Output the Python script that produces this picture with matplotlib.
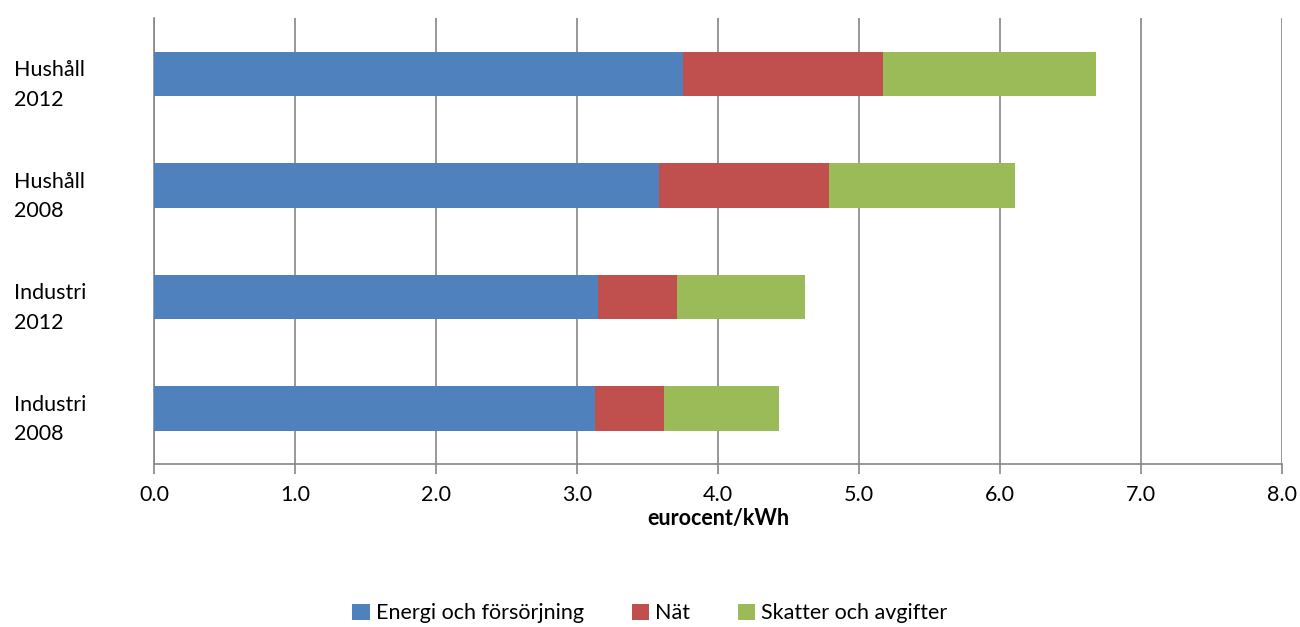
import matplotlib
matplotlib.use('Agg')
import matplotlib.pyplot as plt
import matplotlib.transforms as mtransforms

plt.rcParams['font.family'] = ['Lato', 'DejaVu Sans']

# data
categories = ["Hushåll\n2012", "Hushåll\n2008", "Industri\n2012", "Industri\n2008"]
energi = [3.75, 3.58, 3.15, 3.13]
nat = [1.42, 1.21, 0.56, 0.49]
skatter = [1.51, 1.32, 0.91, 0.81]
series_names = ["Energi och försörjning", "Nät", "Skatter och avgifter"]
colors = ["#4F81BD", "#C0504D", "#9BBB59"]

fig = plt.figure(figsize=(13, 6.27), dpi=100)
ax = fig.add_axes([0.1185, 0.26, 0.8675, 0.711])

ypos = list(range(len(categories)))
left2 = [a + b for a, b in zip(energi, nat)]
ax.barh(ypos, energi, height=0.4, color=colors[0], label=series_names[0], zorder=3)
ax.barh(ypos, nat, left=energi, height=0.4, color=colors[1], label=series_names[1], zorder=3)
ax.barh(ypos, skatter, left=left2, height=0.4, color=colors[2], label=series_names[2], zorder=3)

ax.set_ylim(3.5, -0.5)
ax.set_xlim(0, 8)
ax.set_xticks([0, 1, 2, 3, 4, 5, 6, 7, 8])
ax.set_xticklabels(["%.1f" % v for v in range(9)], fontsize=15.5)
ax.set_xlabel("eurocent/kWh", fontsize=15.5, fontweight='bold', labelpad=2)
ax.xaxis.grid(True, color='#868686', linewidth=1.2, zorder=0)
ax.tick_params(axis='x', length=7, color='#868686', width=1.2, pad=8)
ax.set_yticks([])

for s in ['top', 'right']:
    ax.spines[s].set_visible(False)
for s in ['left', 'bottom']:
    ax.spines[s].set_color('#868686')
    ax.spines[s].set_linewidth(1.2)

# y labels left aligned near figure edge, sitting a little below bar centre
trans = mtransforms.blended_transform_factory(fig.transFigure, ax.transData)
for i, c in enumerate(categories):
    ax.text(14 / 1300, i + 0.1, c, transform=trans, ha='left', va='center',
            fontsize=15.5, linespacing=1.6)

fig.legend(loc='lower center', bbox_to_anchor=(0.5, -0.025), ncol=3, frameon=False,
           fontsize=15.5, handlelength=0.8, handleheight=0.8, handletextpad=0.3,
           columnspacing=2.2)

plt.savefig('out.png')
plt.close()
